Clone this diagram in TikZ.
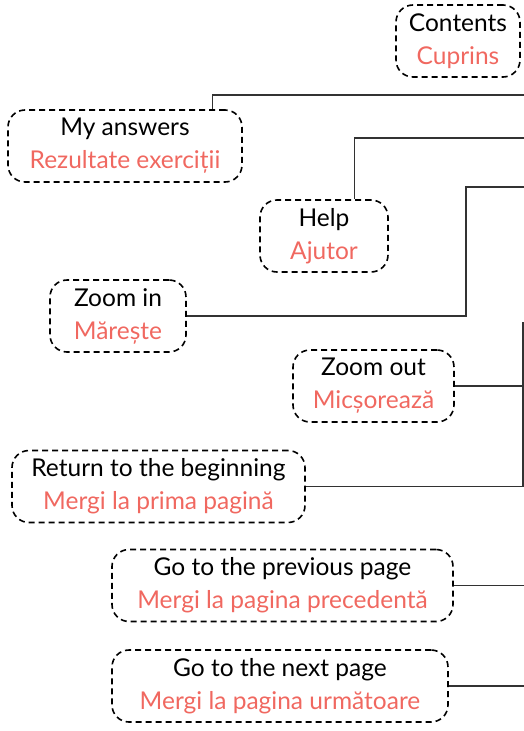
\documentclass[tikz,border=0pt]{standalone}
\usepackage{fontspec}
\setmainfont{Lato}
\usepackage{xcolor}
\usepackage{tikz}
\definecolor{rored}{RGB}{240,104,96}
\definecolor{linegray}{RGB}{50,50,50}
\tikzset{
  navbox/.style={draw, dashed, dash pattern=on 6pt off 4pt, line width=1.6pt,
    rounded corners=17pt, align=center, inner sep=0pt,
    minimum height=72pt, font=\fontsize{24.5}{33}\selectfont},
  navline/.style={line width=1.2pt, color=linegray}
}
\newcommand{\ro}[1]{\textcolor{rored}{#1}}
\begin{document}
\begin{tikzpicture}[x=1pt,y=-1pt]
  \useasboundingbox (0,0) rectangle (524,731);

  \node[navbox, minimum width=124pt] (contents) at (458,41) {Contents\\\ro{Cuprins}};
  \node[navbox, minimum width=234pt] (answers) at (125,146) {My answers\\\ro{Rezultate exerciții}};
  \node[navbox, minimum width=128pt] (help) at (324,236) {Help\\\ro{Ajutor}};
  \node[navbox, minimum width=136pt] (zoomin) at (118,316) {Zoom in\\\ro{Mărește}};
  \node[navbox, minimum width=161pt] (zoomout) at (373.5,386) {Zoom out\\\ro{Micșorează}};
  \node[navbox, minimum width=293pt] (return) at (158.5,486.5) {Return to the beginning\\\ro{Mergi la prima pagină}};
  \node[navbox, minimum width=341pt] (prev) at (282.5,585.5) {Go to the previous page\\\ro{Mergi la pagina precedentă}};
  \node[navbox, minimum width=336pt] (next) at (280,686) {Go to the next page\\\ro{Mergi la pagina următoare}};

  \coordinate (answersend) at (524,95);
  \coordinate (helpend) at (524,138);
  \coordinate (zoominbend) at (466,187);
  \coordinate (zoominend) at (524,187);
  \coordinate (bracket) at (523,323);
  \coordinate (bracketend) at (524,323);

  \draw[navline] ([xshift=-30pt]answers.north east) |- (answersend);
  \draw[navline] ([xshift=-34pt]help.north east) |- (helpend);
  \draw[navline] (zoomin.east) -| (zoominbend) -- (zoominend);
  \draw[navline] (zoomout.east) -- (zoomout.east -| bracket);
  \draw[navline] (return.east) -| (bracket) -- (bracketend);
  \draw[navline] (prev.east) -- (prev.east -| bracketend);
  \draw[navline] (next.east) -- (next.east -| bracketend);
\end{tikzpicture}
\end{document}
